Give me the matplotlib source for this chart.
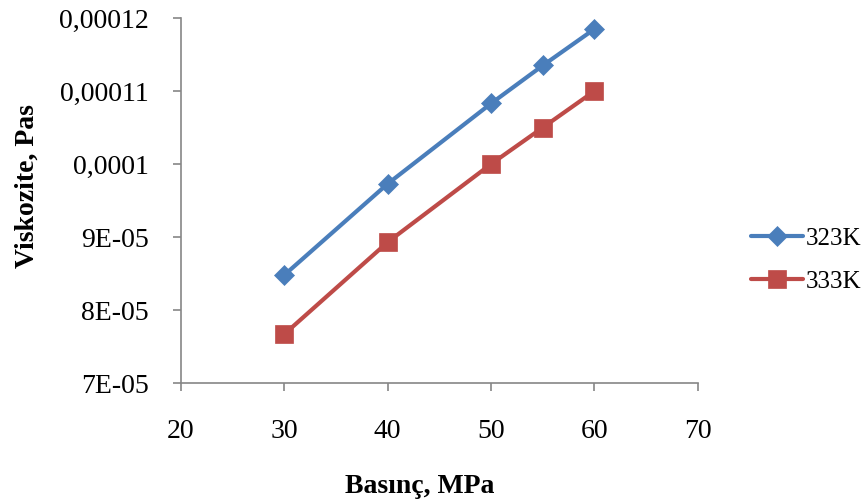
import matplotlib
matplotlib.use("Agg")
import matplotlib.pyplot as plt

plt.rcParams['font.family'] = ['Liberation Serif', 'DejaVu Serif']

pressure = [30, 40, 50, 55, 60]
visc_323K = [84.8e-6, 97.3e-6, 108.3e-6, 113.5e-6, 118.5e-6]
visc_333K = [76.7e-6, 89.3e-6, 100.0e-6, 105.0e-6, 110.0e-6]

x_ticks = [20, 30, 40, 50, 60, 70]
y_ticks = [7e-5, 8e-5, 9e-5, 1e-4, 1.1e-4, 1.2e-4]
y_tick_labels = ["7E-05", "8E-05", "9E-05", "0,0001", "0,00011", "0,00012"]

fig = plt.figure(figsize=(8.68, 5.01), dpi=100)
ax = fig.add_axes([0.2085, 0.2355, 0.5955, 0.7285])

ax.plot(pressure, visc_323K, color='#4a7ebb', lw=3, marker='D', ms=10,
        mew=0.5, label='323K', solid_capstyle='round', solid_joinstyle='round')
ax.plot(pressure, visc_333K, color='#be4b48', lw=3, marker='s', ms=13,
        mew=0.5, label='333K', solid_capstyle='round', solid_joinstyle='round')

ax.set_xlim(20, 70)
ax.set_ylim(7e-5, 1.2e-4)
ax.set_xticks(x_ticks)
ax.set_yticks(y_ticks)
ax.set_yticklabels(y_tick_labels)

for side in ['top', 'right']:
    ax.spines[side].set_visible(False)
for side in ['left', 'bottom']:
    ax.spines[side].set_color('#868686')
    ax.spines[side].set_linewidth(1.2)
ax.tick_params(axis='both', direction='out', length=6, width=1.2,
               color='#868686', labelsize=20)
ax.tick_params(axis='x', pad=20)
ax.tick_params(axis='y', pad=17)

ax.set_xlabel('Basınç, MPa', fontsize=20, fontweight='bold', va='top')
ax.xaxis.set_label_coords(0.462, -0.25)
ax.set_ylabel('Viskozite, Pas', fontsize=20, fontweight='bold')
ax.yaxis.set_label_coords(-0.274, 0.54)

leg = fig.legend(loc='center left', bbox_to_anchor=(0.865, 0.481),
                 frameon=False, fontsize=18, handlelength=2.1,
                 labelspacing=0.8, handletextpad=0.08, borderpad=0,
                 borderaxespad=0)

fig.savefig('out.png', dpi=100)
